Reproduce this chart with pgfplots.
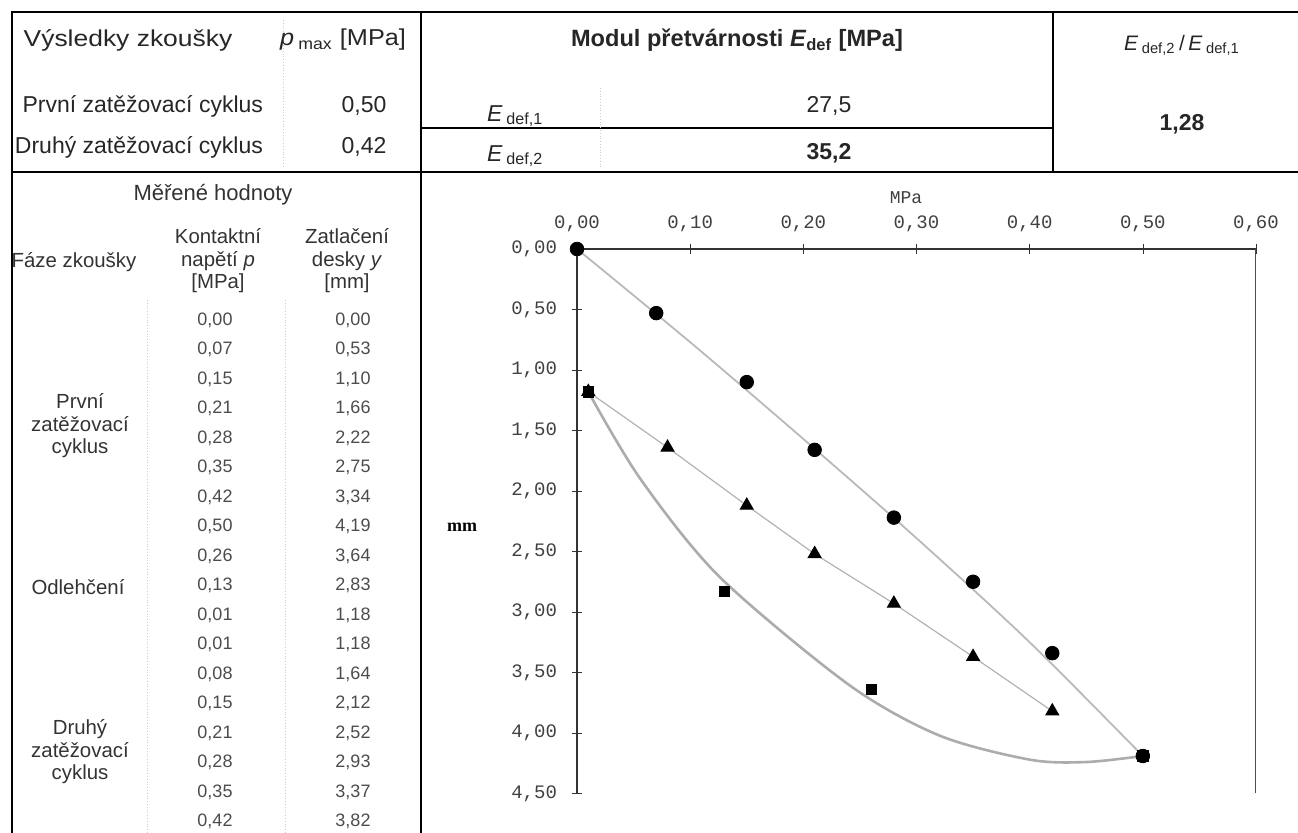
\documentclass[border=0pt]{standalone}
\usepackage{fontspec}
\setmainfont{Liberation Sans}
\newfontfamily\monofont{Liberation Mono}
\newfontfamily\seriffont{Liberation Serif}
\usepackage{pgfplots}
\pgfplotsset{compat=1.18}

% one row of the measured-values table: row index, p, y
\newcommand\mrow[3]{%
  \node[font=\fontsize{9}{10}\selectfont, text=black!70] at (215,320+#1*29.5) {#2};
  \node[font=\fontsize{9}{10}\selectfont, text=black!70] at (353,320+#1*29.5) {#3};}

\begin{document}
\begin{tikzpicture}
\begin{scope}[x=0.5pt,y=-0.5pt]
\useasboundingbox (0,0) rectangle (1298,833);

% --- table frame
\draw[line width=1.3pt] (12,833) -- (12,12) -- (1298,12);
\draw[line width=1.3pt] (12,172) -- (1298,172);
\draw[line width=1.3pt] (421,12) -- (421,833);
\draw[line width=1pt] (1053,12) -- (1053,172);
\draw[line width=1pt] (421,128) -- (1053,128);
\draw[gray!40, densely dotted] (283,20) -- (283,168);
\draw[gray!40, densely dotted] (600,88) -- (600,168);
\draw[gray!40, densely dotted] (147,300) -- (147,833);
\draw[gray!40, densely dotted] (285,300) -- (285,833);

% --- upper part
\begin{scope}[every node/.style={font=\fontsize{11.5}{13}\selectfont, text=black!85}]
\node at (128,40) {\scalebox{1.15}[1]{\fontsize{11.5}{13}\selectfont Výsledky zkoušky}};
\node at (343,40) {\scalebox{1.1}[1]{\textit{p}\,\textsubscript{max} [MPa]}};
\node[font=\fontsize{11.8}{14}\selectfont] at (737,40) {\bfseries Modul přetvárnosti \textit{E}\textsubscript{def} [MPa]};
\node[font=\fontsize{10.5}{12}\selectfont] at (1182,45) {\textit{E}\,\textsubscript{def,2}\,/\,\textit{E}\,\textsubscript{def,1}};
\node[anchor=east] at (270,106) {První zatěžovací cyklus};
\node[anchor=east] at (270,147) {Druhý zatěžovací cyklus};
\node at (364,106) {0,50};
\node at (364,147) {0,42};
\node[anchor=west] at (480,116) {\textit{E}\,\textsubscript{def,1}};
\node[anchor=west] at (480,156) {\textit{E}\,\textsubscript{def,2}};
\node at (829,106) {27,5};
\node at (829,153) {\bfseries 35,2};
\node at (1182,124) {\bfseries 1,28};
\end{scope}

% --- measured values
\begin{scope}[every node/.style={font=\fontsize{10.2}{11.3}\selectfont, text=black!80, align=center}]
\node[font=\fontsize{11}{12}\selectfont] at (213,195) {Měřené hodnoty};
\node at (74,262) {Fáze zkoušky};
\node at (218,261) {Kontaktní\\napětí \textit{p}\\{[MPa]}};
\node at (347,261) {Zatlačení\\desky \textit{y}\\{[mm]}};
\node at (80,426) {První\\zatěžovací\\cyklus};
\node at (78,587) {Odlehčení};
\node at (80,752) {Druhý\\zatěžovací\\cyklus};
\end{scope}
\mrow{0}{0,00}{0,00}
\mrow{1}{0,07}{0,53}
\mrow{2}{0,15}{1,10}
\mrow{3}{0,21}{1,66}
\mrow{4}{0,28}{2,22}
\mrow{5}{0,35}{2,75}
\mrow{6}{0,42}{3,34}
\mrow{7}{0,50}{4,19}
\mrow{8}{0,26}{3,64}
\mrow{9}{0,13}{2,83}
\mrow{10}{0,01}{1,18}
\mrow{11}{0,01}{1,18}
\mrow{12}{0,08}{1,64}
\mrow{13}{0,15}{2,12}
\mrow{14}{0,21}{2,52}
\mrow{15}{0,28}{2,93}
\mrow{16}{0,35}{3,37}
\mrow{17}{0,42}{3,82}

% --- chart labels
\node[font=\monofont\fontsize{9}{10}\selectfont, text=black!75] at (906,198) {MPa};
\node[font=\seriffont\bfseries\fontsize{9}{10}\selectfont] at (462,527) {mm};
\end{scope}

\begin{axis}[
  at={(288.5pt,-124.5pt)}, anchor=north west,
  scale only axis, width=339.5pt, height=272.25pt,
  xmin=0, xmax=0.6, ymin=0, ymax=4.5,
  y dir=reverse,
  axis x line*=top, axis y line*=left,
  axis line style={black!80, line width=0.6pt, -},
  xtick={0,0.1,0.2,0.3,0.4,0.5,0.6},
  ytick={0,0.5,1,1.5,2,2.5,3,3.5,4,4.5},
  tick align=center, major tick length=5pt,
  tick style={black!80},
  ticklabel style={font=\monofont\fontsize{9.5}{11}\selectfont, text=black!75},
  xticklabel style={yshift=2.5pt},
  yticklabel style={xshift=-4pt},
  /pgf/number format/.cd, use comma, fixed, fixed zerofill, precision=2,
  assume math mode=true, /pgfplots/.cd,
  clip=false,
]
\draw[black!70, line width=0.5pt] (rel axis cs:1,0) -- (rel axis cs:1,1);
% unloading trend curve
\addplot[gray!65, line width=1.3pt, smooth] coordinates {
  (0.01,1.18) (0.056,1.90) (0.126,2.71) (0.24,3.60) (0.32,4.02)
  (0.40,4.22) (0.45,4.24) (0.50,4.19)};
% first loading trend curve
\addplot[gray!55, line width=0.9pt, smooth] coordinates {
  (0,0) (0.10,0.77) (0.20,1.57) (0.30,2.39) (0.40,3.25) (0.50,4.19)};
% second loading
\addplot[gray!60, line width=0.6pt, mark=triangle*, mark size=3.6pt,
  mark options={draw=black, fill=black}] coordinates {
  (0.01,1.18) (0.08,1.64) (0.15,2.12) (0.21,2.52) (0.28,2.93) (0.35,3.37) (0.42,3.82)};
% unloading points
\addplot[only marks, mark=square*, mark size=2.6pt, mark options={draw=black, fill=black}] coordinates {
  (0.50,4.19) (0.26,3.64) (0.13,2.83) (0.01,1.18)};
% first loading points
\addplot[only marks, mark=*, mark size=3.4pt, mark options={draw=black, fill=black}] coordinates {
  (0,0) (0.07,0.53) (0.15,1.10) (0.21,1.66) (0.28,2.22) (0.35,2.75) (0.42,3.34) (0.50,4.19)};
\end{axis}
\end{tikzpicture}
\end{document}
